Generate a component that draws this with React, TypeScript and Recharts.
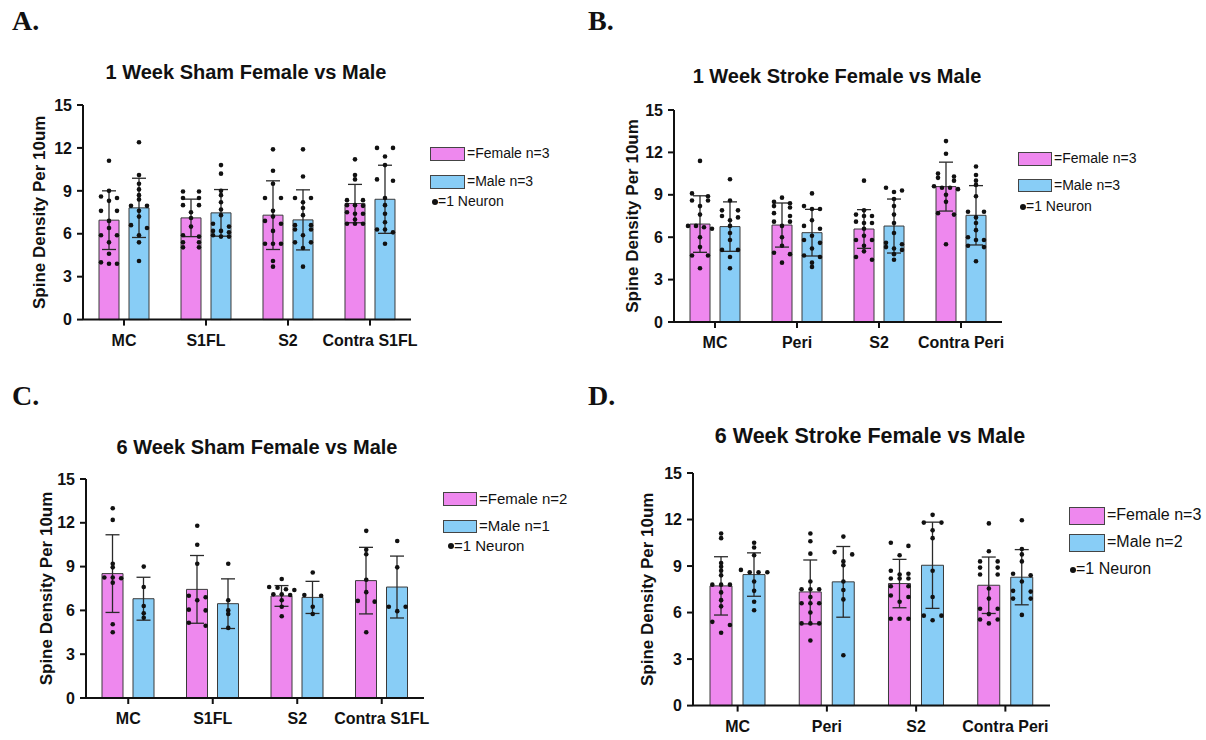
import React from 'react';
import { ComposedChart, Bar, ErrorBar, Scatter, XAxis, YAxis } from 'recharts';

// ---- data ----
const yTicks = [0, 3, 6, 9, 12, 15];

// A. 1 Week Sham
const catsA = ['MC', 'S1FL', 'S2', 'Contra S1FL'];
const femMeanA = [6.95, 7.11, 7.3, 8.11];
const femSdA = [2.05, 1.31, 2.4, 1.34];
const maleMeanA = [7.81, 7.46, 6.97, 8.41];
const maleSdA = [2.07, 1.63, 2.1, 2.38];
const femPtsA = [
  [11.1, 9.0, 8.6, 8.5, 8.3, 7.6, 7.6, 6.9, 6.4, 5.9, 5.9, 5.4, 4.6, 4.0, 3.9, 3.9],
  [8.95, 8.95, 8.5, 8.5, 8.0, 8.0, 7.5, 7.1, 6.5, 5.9, 5.8, 5.4, 5.4, 5.05, 5.05],
  [11.9, 10.4, 9.5, 8.5, 8.5, 7.6, 7.2, 6.9, 6.7, 6.2, 5.3, 5.3, 5.3, 4.1, 3.7],
  [11.2, 10.1, 9.8, 8.35, 8.35, 8.0, 8.0, 7.95, 7.5, 7.4, 7.4, 7.0, 6.7, 6.7, 6.7],
];
const malePtsA = [
  [12.4, 10.1, 9.5, 9.1, 8.7, 8.4, 7.95, 7.95, 7.6, 7.2, 6.6, 6.4, 5.9, 5.4, 4.1],
  [10.8, 10.2, 9.0, 8.7, 8.2, 7.7, 7.3, 6.7, 6.5, 6.2, 6.2, 6.1, 5.9, 5.8, 5.8],
  [11.9, 10.0, 8.5, 8.5, 8.2, 7.8, 7.3, 6.6, 6.6, 6.3, 6.3, 5.9, 5.4, 5.4, 5.0, 3.7],
  [12.0, 12.0, 11.4, 10.8, 9.8, 9.7, 8.5, 8.0, 7.4, 6.8, 6.3, 6.3, 6.1, 5.3],
];

// B. 1 Week Stroke
const catsB = ['MC', 'Peri', 'S2', 'Contra Peri'];
const femMeanB = [6.93, 6.86, 6.58, 9.58];
const femSdB = [2.0, 1.56, 1.37, 1.73];
const maleMeanB = [6.75, 6.32, 6.79, 7.55];
const maleSdB = [1.75, 1.65, 1.91, 2.1];
const femPtsB = [
  [11.4, 9.1, 8.9, 8.6, 8.6, 8.2, 7.6, 6.8, 6.8, 6.7, 6.6, 6.0, 5.3, 4.7, 4.7, 3.8],
  [8.8, 8.5, 8.4, 8.2, 8.1, 7.7, 7.5, 7.1, 7.1, 6.8, 6.0, 5.4, 4.9, 4.8, 4.2],
  [10.0, 7.9, 7.6, 7.5, 7.5, 7.1, 7.0, 7.0, 6.6, 6.1, 5.8, 5.8, 5.4, 5.0, 4.6, 4.4],
  [12.8, 11.9, 10.5, 10.3, 10.2, 10.0, 9.6, 9.5, 9.5, 9.4, 9.0, 8.5, 7.7, 7.6, 5.5],
];
const malePtsB = [
  [10.1, 8.6, 7.9, 7.9, 7.5, 7.4, 7.2, 6.8, 6.3, 5.8, 5.1, 5.1, 4.6, 3.8],
  [9.1, 8.2, 8.0, 8.0, 7.2, 6.8, 6.6, 6.1, 5.8, 5.6, 5.2, 4.7, 4.6, 4.2, 3.9],
  [9.5, 9.3, 9.2, 8.7, 8.2, 7.6, 7.0, 6.3, 5.6, 5.5, 5.3, 5.2, 5.1, 4.8, 4.4],
  [11.0, 10.4, 10.0, 9.7, 8.9, 7.8, 7.8, 7.4, 7.0, 6.5, 6.0, 5.8, 5.8, 5.4, 5.3, 4.3],
];

// C. 6 Week Sham
const catsC = ['MC', 'S1FL', 'S2', 'Contra S1FL'];
const femMeanC = [8.52, 7.44, 6.99, 8.04];
const femSdC = [2.66, 2.32, 0.71, 2.28];
const maleMeanC = [6.8, 6.46, 6.89, 7.6];
const maleSdC = [1.47, 1.7, 1.1, 2.12];
const femPtsC = [
  [13.0, 12.2, 9.2, 8.95, 8.25, 8.25, 8.2, 7.9, 5.05, 4.5],
  [11.8, 10.5, 9.2, 7.0, 6.9, 6.7, 6.05, 6.0, 5.15, 4.95],
  [8.15, 7.6, 7.55, 7.45, 7.4, 7.1, 7.05, 7.1, 6.7, 6.25, 5.6],
  [11.45, 10.15, 9.85, 8.1, 7.25, 6.65, 6.6, 4.5],
];
const malePtsC = [
  [9.0, 7.6, 6.3, 5.8, 5.5],
  [9.2, 6.7, 6.0, 5.75, 4.8],
  [8.6, 7.05, 7.0, 6.25, 5.75],
  [10.75, 8.95, 6.25, 6.25, 5.95],
];

// D. 6 Week Stroke
const catsD = ['MC', 'Peri', 'S2', 'Contra Peri'];
const femMeanD = [7.72, 7.33, 7.87, 7.76];
const femSdD = [1.88, 2.06, 1.56, 1.82];
const maleMeanD = [8.45, 7.98, 9.05, 8.28];
const maleSdD = [1.4, 2.28, 2.78, 1.78];
const femPtsD = [
  [11.1, 10.8, 9.2, 8.95, 8.7, 8.4, 7.8, 7.8, 7.8, 7.3, 6.8, 6.4, 5.4, 5.2, 4.7],
  [11.1, 10.6, 9.8, 8.0, 7.5, 7.5, 7.5, 7.0, 6.6, 6.6, 6.6, 6.0, 5.3, 5.3, 5.3, 4.2],
  [10.5, 10.3, 9.7, 8.7, 8.5, 8.45, 8.2, 8.2, 8.2, 7.7, 7.7, 7.1, 7.0, 6.7, 5.6, 5.6, 5.6],
  [11.75, 9.95, 9.3, 9.3, 8.9, 8.9, 8.45, 8.45, 7.55, 6.9, 6.25, 6.25, 5.9, 5.55, 5.55, 5.3],
];
const malePtsD = [
  [10.5, 10.2, 9.7, 8.75, 8.6, 8.6, 8.6, 8.0, 7.4, 6.7, 6.15],
  [10.9, 9.9, 9.75, 9.3, 9.05, 8.0, 7.45, 6.85, 3.25],
  [12.3, 11.8, 11.8, 11.3, 10.8, 8.7, 7.0, 5.8, 5.8, 5.5],
  [11.95, 10.1, 9.75, 9.3, 8.5, 8.4, 8.0, 7.4, 7.35, 6.9, 6.9, 5.85],
];

const legendA = ['=Female n=3', '=Male n=3'];
const legendB = ['=Female n=3', '=Male n=3'];
const legendC = ['=Female n=2', '=Male n=1'];
const legendD = ['=Female n=3', '=Male n=2'];

// ---- styling ----
const FEMALE = '#EE88EE';
const MALE = '#88CDF6';
const INK = '#111';
const FONT = '"Liberation Sans", Arial, Helvetica, sans-serif';

// spread dots of similar value sideways, Prism style (returns px offsets)
function spread(values: number[], thr: number, step: number): number[] {
  const order = values.map((_, i) => i).sort((a, b) => values[b] - values[a]);
  const offs = values.map(() => 0);
  let row: number[] = [];
  const flush = () => {
    const n = row.length;
    row.forEach((k, j) => {
      offs[k] = n === 2 ? (j === 0 ? -step : step) : (j - (n - 1) / 2) * step;
    });
    row = [];
  };
  order.forEach((k) => {
    if (row.length && values[row[0]] - values[k] > thr) flush();
    row.push(k);
  });
  flush();
  return offs;
}

const Dot = (props: any) => <circle cx={props.cx} cy={props.cy} r={2.3} fill={INK} />;

function Panel({ p }: { p: any }) {
  const rows = p.cats.map((name: string, i: number) => ({
    name,
    female: p.femMean[i],
    femaleSd: p.femSd[i],
    male: p.maleMean[i],
    maleSd: p.maleSd[i],
  }));

  const plotW = p.plotRight - p.plotLeft;
  const plotH = p.plotBottom - p.plotTop;
  const yAxisW = 80;
  const mTop = 14;
  const mRight = 40;
  const xAxisH = 42;
  const chartLeft = p.plotLeft - yAxisW;
  const chartTop = p.plotTop - mTop;
  const width = plotW + yAxisW + mRight;
  const height = plotH + mTop + xAxisH;
  const pxPerUnit = plotH / 15;
  const unitPerPx = 4 / plotW;
  const half = (p.barSize + p.barGap) / 2;

  const dots = (sets: number[][], sign: number) =>
    sets.flatMap((vals, i) => {
      const offs = spread(vals, 3.6 / pxPerUnit, p.barSize * 0.4);
      return vals.map((v, j) => ({ x: i + 0.5 + (sign * half + offs[j]) * unitPerPx, y: v }));
    });

  const axisStyle = { stroke: INK, strokeWidth: 2 };

  return (
    <>
      <div style={{ position: 'absolute', left: p.letterX, top: p.letterY, fontFamily: '"Liberation Serif", "Times New Roman", serif', fontWeight: 700, fontSize: 28, lineHeight: 1 }}>
        {p.letter}
      </div>
      <div style={{ position: 'absolute', left: p.titleX - 250, width: 500, top: p.titleY - p.titleSize * 0.49, textAlign: 'center', fontWeight: 700, fontSize: p.titleSize, lineHeight: 1, color: INK }}>
        {p.title}
      </div>
      <div style={{ position: 'absolute', left: chartLeft, top: chartTop }}>
        <ComposedChart
          width={width}
          height={height}
          data={rows}
          margin={{ top: mTop, right: mRight, bottom: 0, left: 0 }}
          barSize={p.barSize}
          barGap={p.barGap}
        >
          <XAxis
            xAxisId="cat"
            dataKey="name"
            type="category"
            height={xAxisH}
            axisLine={axisStyle}
            tickLine={axisStyle}
            tickSize={6}
            tickMargin={9}
            interval={0}
            tick={{ fill: INK, fontSize: 16, fontWeight: 700 }}
          />
          <XAxis xAxisId="pts" dataKey="x" type="number" domain={[0, 4]} allowDataOverflow hide />
          <YAxis
            domain={[0, 15]}
            ticks={yTicks}
            width={yAxisW}
            axisLine={axisStyle}
            tickLine={axisStyle}
            tickSize={6}
            tickMargin={5}
            tick={{ fill: INK, fontSize: 16, fontWeight: 700 }}
            label={{
              value: 'Spine Density Per 10um',
              angle: -90,
              position: 'insideLeft',
              offset: p.yLabelX - chartLeft,
              fontSize: 17,
              fontWeight: 700,
              fill: INK,
              style: { textAnchor: 'middle' },
            }}
          />
          <Bar xAxisId="cat" dataKey="female" fill={FEMALE} stroke="#3a3a3a" strokeWidth={1} isAnimationActive={false}>
            <ErrorBar dataKey="femaleSd" direction="y" width={7} stroke="#2a2a2a" strokeWidth={1.3} />
          </Bar>
          <Bar xAxisId="cat" dataKey="male" fill={MALE} stroke="#3a3a3a" strokeWidth={1} isAnimationActive={false}>
            <ErrorBar dataKey="maleSd" direction="y" width={7} stroke="#2a2a2a" strokeWidth={1.3} />
          </Bar>
          <Scatter xAxisId="pts" data={dots(p.femPts, -1)} dataKey="y" shape={Dot} isAnimationActive={false} />
          <Scatter xAxisId="pts" data={dots(p.malePts, 1)} dataKey="y" shape={Dot} isAnimationActive={false} />
        </ComposedChart>
      </div>
      {/* legend */}
      {[FEMALE, MALE].map((c, i) => {
        const top = i === 0 ? p.lg.fy : p.lg.my;
        return (
          <React.Fragment key={c}>
            <div style={{ position: 'absolute', left: p.lg.x, top, width: p.lg.bw, height: p.lg.bh, background: c, border: '1.5px solid #444', boxSizing: 'border-box' }} />
            <div style={{ position: 'absolute', left: p.lg.x + p.lg.bw + 2, top: top + p.lg.bh / 2 - p.lg.fs * 0.55, fontSize: p.lg.fs, lineHeight: 1, color: INK, whiteSpace: 'nowrap' }}>
              {p.legend[i]}
            </div>
          </React.Fragment>
        );
      })}
      <div style={{ position: 'absolute', left: p.lg.dotX - 3, top: p.lg.ny - 3, width: 6, height: 6, borderRadius: 3, background: INK }} />
      <div style={{ position: 'absolute', left: p.lg.dotX + 3, top: p.lg.ny - p.lg.fs * 0.55, fontSize: p.lg.fs, lineHeight: 1, color: INK, whiteSpace: 'nowrap' }}>
        =1 Neuron
      </div>
    </>
  );
}

const panels = [
  {
    letter: 'A.', letterX: 12, letterY: 7,
    title: '1 Week Sham Female vs Male', titleX: 246, titleY: 72, titleSize: 20,
    cats: catsA, femMean: femMeanA, femSd: femSdA, maleMean: maleMeanA, maleSd: maleSdA, femPts: femPtsA, malePts: malePtsA,
    plotLeft: 83, plotRight: 411, plotTop: 104.7, plotBottom: 319.3, barSize: 20, barGap: 10, yLabelX: 39,
    legend: legendA, lg: { x: 430, fy: 147, my: 175, ny: 201.7, bw: 35, bh: 14, fs: 14, dotX: 435 },
  },
  {
    letter: 'B.', letterX: 588, letterY: 7,
    title: '1 Week Stroke Female vs Male', titleX: 837, titleY: 76, titleSize: 20,
    cats: catsB, femMean: femMeanB, femSd: femSdB, maleMean: maleMeanB, maleSd: maleSdB, femPts: femPtsB, malePts: malePtsB,
    plotLeft: 674, plotRight: 1002, plotTop: 110, plotBottom: 322, barSize: 20, barGap: 10, yLabelX: 632,
    legend: legendB, lg: { x: 1018, fy: 152, my: 178.5, ny: 207, bw: 34, bh: 13.5, fs: 14, dotX: 1023 },
  },
  {
    letter: 'C.', letterX: 12, letterY: 382,
    title: '6 Week Sham Female vs Male', titleX: 257, titleY: 447, titleSize: 20,
    cats: catsC, femMean: femMeanC, femSd: femSdC, maleMean: maleMeanC, maleSd: maleSdC, femPts: femPtsC, malePts: malePtsC,
    plotLeft: 86, plotRight: 424, plotTop: 479, plotBottom: 698, barSize: 21, barGap: 10, yLabelX: 45.5,
    legend: legendC, lg: { x: 443, fy: 492, my: 519.5, ny: 546, bw: 34, bh: 13.5, fs: 15, dotX: 451 },
  },
  {
    letter: 'D.', letterX: 588, letterY: 382,
    title: '6 Week Stroke Female vs Male', titleX: 870, titleY: 437, titleSize: 21.5,
    cats: catsD, femMean: femMeanD, femSd: femSdD, maleMean: maleMeanD, maleSd: maleSdD, femPts: femPtsD, malePts: malePtsD,
    plotLeft: 693, plotRight: 1050, plotTop: 472.7, plotBottom: 705.3, barSize: 22, barGap: 11, yLabelX: 646.7,
    legend: legendD, lg: { x: 1069, fy: 507, my: 534, ny: 570, bw: 36, bh: 18, fs: 16, dotX: 1073 },
  },
];

export default function App() {
  return (
    <div style={{ position: 'absolute', left: 0, top: 0, width: 1206, height: 740, background: '#fff', fontFamily: FONT, color: INK, overflow: 'hidden' }}>
      {panels.map((p) => (
        <Panel key={p.letter} p={p} />
      ))}
    </div>
  );
}
